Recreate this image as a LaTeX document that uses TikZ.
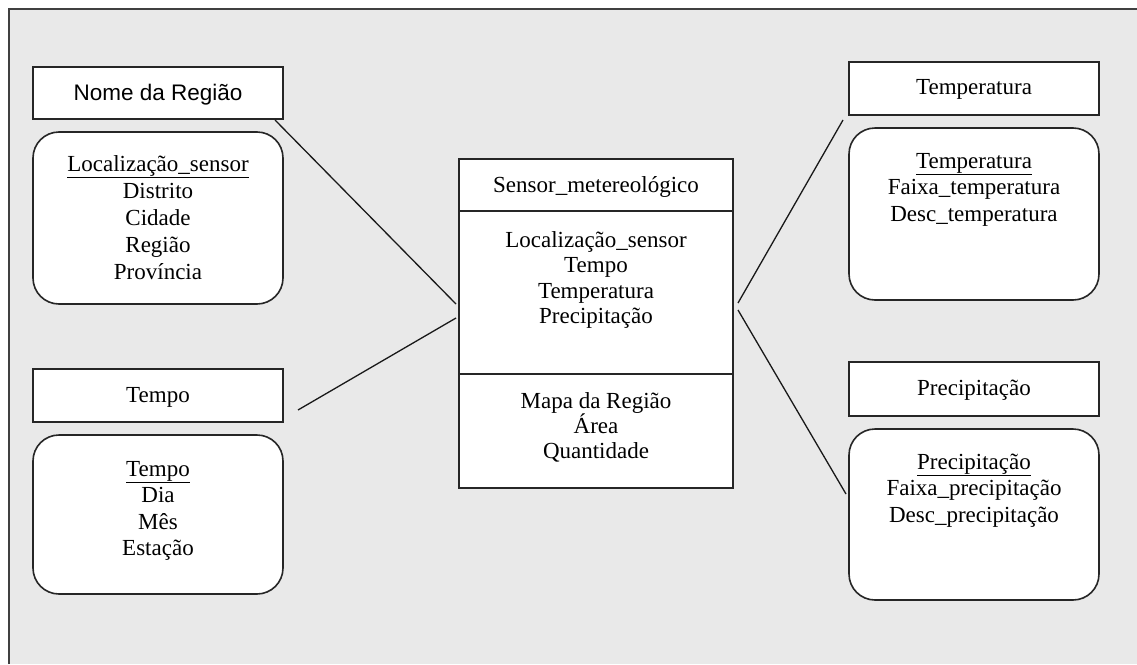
\documentclass[tikz,border=0pt]{standalone}
\usepackage{fontspec}
\setmainfont{Liberation Serif}
\newfontfamily\arialf{Liberation Sans}
\begin{document}
\begin{tikzpicture}[x=1pt,y=-1pt,
  hdr/.style={draw=black!85,line width=1.6pt,fill=white,inner sep=0pt},
  rbox/.style={draw=black!85,line width=1.6pt,fill=white,rounded corners=26pt,inner sep=0pt},
  attr/.style={align=center,inner sep=0pt,anchor=base,font=\fontsize{23}{26.5}\selectfont},
  link/.style={draw=black!90,line width=1.3pt}]
\useasboundingbox (0,0) rectangle (1137,664);
% page frame
\fill[white] (0,0) rectangle (1137,664);
\fill[black!8.5] (9,9) rectangle (1137,664);
\draw[black!75,line width=1.8pt] (9,664) -- (9,9) -- (1137,9);

% left column: region dimension (base anchor = last line's baseline)
\node[hdr,minimum width=250,minimum height=52] (nome) at (158,93) {};
\node[attr,font=\arialf\fontsize{22.5}{26}\selectfont] (nomet) at (158,100) {Nome da Região};
\node[rbox,minimum width=250,minimum height=172] (locbox) at (158,218) {};
\node[attr,font=\fontsize{23}{27}\selectfont] (loct) at (158,279) {\underline{Localização\_sensor}\\Distrito\\Cidade\\Região\\Província};

% left column: time dimension
\node[hdr,minimum width=250,minimum height=53] (tempo) at (158,395.5) {};
\node[attr] (tempot) at (158,402) {Tempo};
\node[rbox,minimum width=250,minimum height=159] (tempobox) at (158,514.5) {};
\node[attr] (tempol) at (158,555.5) {\underline{Tempo}\\Dia\\Mês\\Estação};

% central fact table
\node[hdr,minimum width=274,minimum height=329] (sensor) at (596,323.5) {};
\draw[black!85,line width=1.6pt] (sensor.west |- 0,211) -- (sensor.east |- 0,211);
\draw[black!85,line width=1.6pt] (sensor.west |- 0,374) -- (sensor.east |- 0,374);
\node[attr] (sensort) at (596,192) {Sensor\_metereológico};
\node[attr,font=\fontsize{23}{25.5}\selectfont] (medidas) at (596,323.5) {Localização\_sensor\\Tempo\\Temperatura\\Precipitação};
\node[attr,font=\fontsize{23}{25}\selectfont] (mapa) at (596,458) {Mapa da Região\\Área\\Quantidade};

% right column: temperature dimension
\node[hdr,minimum width=250,minimum height=53] (temp) at (974,88.5) {};
\node[attr] (tempt) at (974,94) {Temperatura};
\node[rbox,minimum width=250,minimum height=172] (tempbox) at (974,214) {};
\node[attr] (templ) at (974,221) {\underline{Temperatura}\\Faixa\_temperatura\\Desc\_temperatura};

% right column: precipitation dimension
\node[hdr,minimum width=250,minimum height=54] (prec) at (974,389) {};
\node[attr] (prect) at (974,395) {Precipitação};
\node[rbox,minimum width=250,minimum height=171] (precbox) at (974,514.5) {};
\node[attr] (precl) at (974,522) {\underline{Precipitação}\\Faixa\_precipitação\\Desc\_precipitação};

% connectors between dimensions and the fact table
\coordinate (n1) at (275,120);  \coordinate (s1) at (456,304);
\coordinate (n2) at (298,410);  \coordinate (s2) at (456,318);
\coordinate (s3) at (738,303);  \coordinate (n3) at (843,120);
\coordinate (s4) at (738,310);  \coordinate (n4) at (846,494);
\draw[link] (n1) -- (s1);
\draw[link] (n2) -- (s2);
\draw[link] (s3) -- (n3);
\draw[link] (s4) -- (n4);
\end{tikzpicture}
\end{document}
